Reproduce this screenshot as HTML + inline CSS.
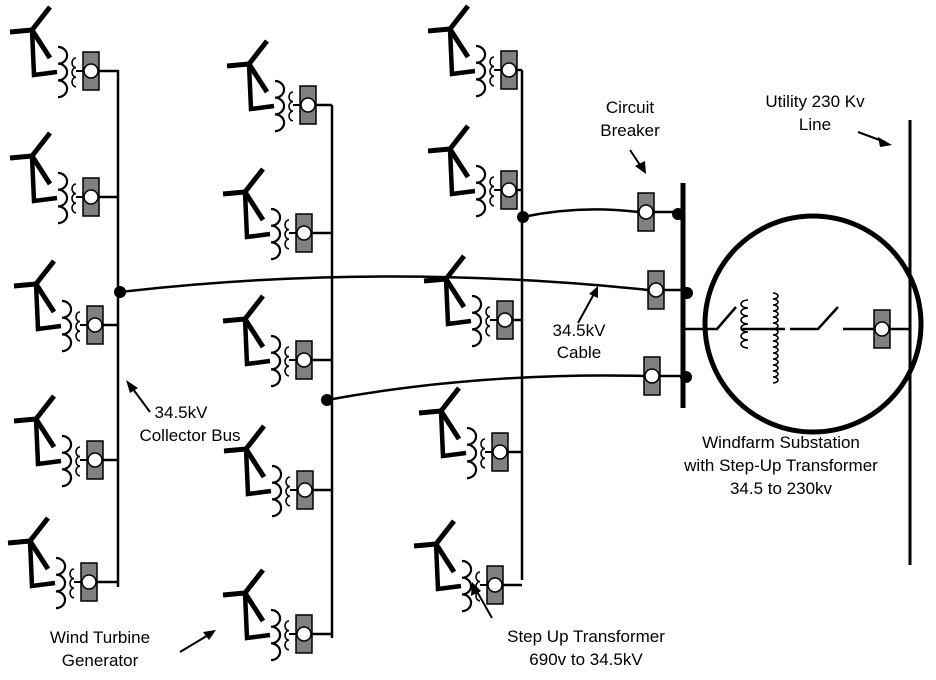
<!DOCTYPE html>
<html><head><style>body{margin:0;background:#fff}svg{display:block}text{font-family:"Liberation Sans",sans-serif;font-size:17px;fill:#000}</style></head><body>
<svg width="936" height="680" viewBox="0 0 936 680" xmlns="http://www.w3.org/2000/svg">
<defs>
<g id="brk"><rect x="-8" y="-19" width="16" height="38" fill="#808080" stroke="#000" stroke-width="1.5"/><circle r="7" fill="#fff" stroke="#000" stroke-width="1.5"/></g>
<g id="t" fill="none" stroke="#000">
<path d="M-81,-39 L-59,-41 M-59,-41 L-41,-64 M-59,-41 L-41,-13" stroke-width="5"/>
<path d="M-59,-41 L-57,4 L-34,1" stroke-width="4.5"/>
<path d="M-33,-24 a9,8.3 0 0 1 0,16.7 a9,8.3 0 0 1 0,16.7 a9,8.3 0 0 1 0,16.7" stroke-width="2.2"/>
<path d="M-15,-13 a4,4.8 0 0 0 0,9.6 a4,4.8 0 0 0 0,9.6 a4,4.8 0 0 0 0,9.6" stroke-width="1.6"/>
<path d="M-15,0 L-7,0" stroke-width="2"/>
<use href="#brk"/>
</g>
</defs>
<g stroke="#000" fill="none" stroke-width="2.5">
<path d="M118,70 V587"/>
<path d="M98,71 H118 M98,197 H118 M102,325 H118 M102,460 H118 M96,582 H118"/>
<path d="M332,105 V638"/>
<path d="M315,105 H332 M311,233 H332 M311,360 H332 M312,490 H332 M311,634 H332"/>
<path d="M522,70 V580"/>
<path d="M516,70 H522 M516,190 H522 M512,320 H522 M507,452 H522 M502,585 H522"/>
<path d="M523,217 Q580,205 638,212"/>
<path d="M120,292 Q380,262 648,290"/>
<path d="M327,400 Q480,372 645,376"/>
<path d="M654,212 H680 M664,290 H686 M660,376 H686"/>
</g>
<use href="#t" x="91" y="71"/><use href="#t" x="91" y="197"/><use href="#t" x="95" y="325"/><use href="#t" x="95" y="460"/><use href="#t" x="89" y="582"/>
<use href="#t" x="308" y="105"/><use href="#t" x="304" y="233"/><use href="#t" x="304" y="360"/><use href="#t" x="305" y="490"/><use href="#t" x="304" y="634"/>
<use href="#t" x="509" y="70"/><use href="#t" x="509" y="190"/><use href="#t" x="505" y="320"/><use href="#t" x="500" y="452"/><use href="#t" x="495" y="585"/>
<use href="#brk" x="646" y="212"/><use href="#brk" x="656" y="290"/><use href="#brk" x="652" y="376"/>
<g fill="#000"><circle cx="120" cy="292" r="6"/><circle cx="327" cy="400" r="6"/><circle cx="523" cy="217" r="6"/><circle cx="678" cy="214" r="6"/><circle cx="687" cy="293" r="6"/><circle cx="686" cy="377" r="6"/></g>
<g stroke="#000" fill="none">
<path d="M683,183 V408" stroke-width="5"/>
<circle cx="813" cy="324" r="108" stroke-width="5"/>
<path d="M910,120 V565" stroke-width="3"/>
<path d="M685,329 H717 L736,307 M742,329 H785 M790,329 H818 L838,307 M843,329 H874 M889,329 H910" stroke-width="2.5"/>
<path d="M748,300 a7,4 0 0 0 0,8 a7,4 0 0 0 0,8 a7,4 0 0 0 0,8 a7,4 0 0 0 0,8 a7,4 0 0 0 0,8 a7,4 0 0 0 0,8" stroke-width="1.6"/>
<path d="M773,293 a5,3 0 0 1 0,6 a5,3 0 0 1 0,6 a5,3 0 0 1 0,6 a5,3 0 0 1 0,6 a5,3 0 0 1 0,6 a5,3 0 0 1 0,6 a5,3 0 0 1 0,6 a5,3 0 0 1 0,6 a5,3 0 0 1 0,6 a5,3 0 0 1 0,6 a5,3 0 0 1 0,6 a5,3 0 0 1 0,6 a5,3 0 0 1 0,6 a5,3 0 0 1 0,6 a5,3 0 0 1 0,6" stroke-width="1.6"/>
<path d="M150,412 L130,385" stroke-width="2"/>
<path d="M180,652 L210,634" stroke-width="2"/>
<path d="M492,618 L475,588" stroke-width="2"/>
<path d="M578,323 L595,292" stroke-width="2"/>
<path d="M630,150 L642,168" stroke-width="2"/>
<path d="M858,132 L885,142" stroke-width="2"/>
</g>
<g fill="#000">
<path d="M126,380 L138,388 L130,393 Z"/>
<path d="M216,630 L203,632 L209,640 Z"/>
<path d="M472,582 L471,596 L481,591 Z"/>
<path d="M598,286 L589,294 L598,298 Z"/>
<path d="M646,174 L635,166 L645,161 Z"/>
<path d="M892,145 L878,137 L880,147 Z"/>
</g>
<use href="#brk" x="882" y="329"/>
<text x="181" y="418" text-anchor="middle">34.5kV</text>
<text x="190" y="441" text-anchor="middle">Collector Bus</text>
<text x="100" y="643" text-anchor="middle">Wind Turbine</text>
<text x="100" y="666" text-anchor="middle">Generator</text>
<text x="586" y="642" text-anchor="middle">Step Up Transformer</text>
<text x="586" y="665" text-anchor="middle">690v to 34.5kV</text>
<text x="579" y="336" text-anchor="middle">34.5kV</text>
<text x="579" y="358" text-anchor="middle">Cable</text>
<text x="630" y="113" text-anchor="middle">Circuit</text>
<text x="630" y="136" text-anchor="middle">Breaker</text>
<text x="815" y="107" text-anchor="middle">Utility 230 Kv</text>
<text x="815" y="130" text-anchor="middle">Line</text>
<text x="781" y="448" text-anchor="middle">Windfarm Substation</text>
<text x="781" y="471" text-anchor="middle">with Step-Up Transformer</text>
<text x="781" y="494" text-anchor="middle">34.5 to 230kv</text>
</svg>
</body></html>
